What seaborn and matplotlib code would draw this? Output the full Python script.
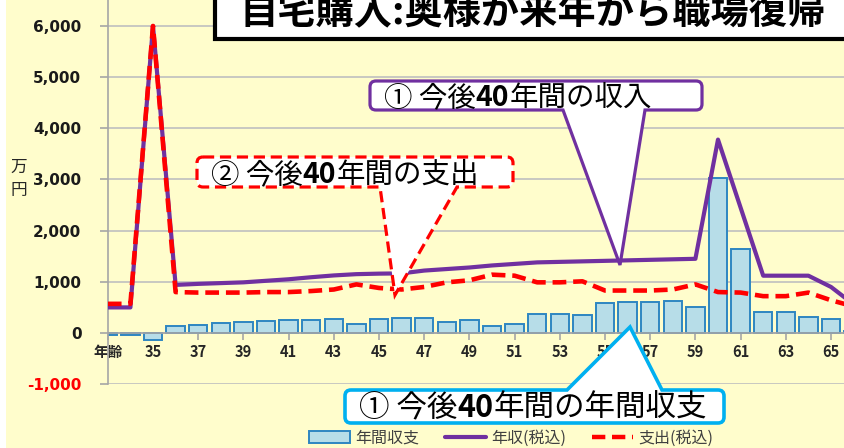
import numpy as np
import pandas as pd
import seaborn as sns
import matplotlib
matplotlib.use('Agg')
import matplotlib.pyplot as plt
from matplotlib.path import Path
from matplotlib.patches import PathPatch, Patch, Rectangle
from matplotlib.lines import Line2D

# data (万円)
ages = list(range(33, 67))
income = [500, 500, 6000, 940, 960, 975, 990, 1020, 1050, 1090, 1125, 1150,
          1160, 1165, 1220, 1250, 1280, 1320, 1350, 1380, 1390, 1400, 1410,
          1420, 1430, 1440, 1450, 3780, 2450, 1120, 1120, 1120, 900, 560]
expense = [570, 570, 6000, 800, 790, 790, 790, 800, 800, 820, 850, 950,
           880, 850, 900, 990, 1030, 1140, 1120, 990, 990, 1010, 830,
           830, 830, 850, 950, 800, 790, 720, 720, 790, 640, 520]
balance = [-40, -40, -140, 140, 160, 200, 220, 230, 250, 250, 265, 180,
           265, 285, 300, 210, 250, 135, 180, 375, 375, 355, 590,
           600, 600, 620, 510, 3030, 1650, 415, 415, 305, 265, 40]
xtick_ages = list(range(33, 66, 2))
xtick_labels = ['年齢'] + [str(a) for a in xtick_ages[1:]]
yticks = [-1000, 0, 1000, 2000, 3000, 4000, 5000, 6000]
legend_labels = ['年間収支', '年収(税込)', '支出(税込)']
title = '自宅購入:奥様が来年から職場復帰'

W, H = 845, 448
bg = '#FFFDCC'
bar_fill = '#B7DDE8'
bar_edge = '#2E86C1'
purple = '#7030A0'
red = '#FF0000'
cyan = '#00B0F0'

sns.set_theme(style='white')
plt.rcParams['font.family'] = ['Noto Sans CJK JP', 'DejaVu Sans']

df = pd.DataFrame({'age': ages, 'income': income, 'expense': expense, 'balance': balance})

fig = plt.figure(figsize=(W / 100, H / 100), dpi=100, facecolor=bg)
x_left, x_step = 107.8, 22.6
y_zero, y_step = 333.0, 51.17
ax = fig.add_axes([x_left / W, 1 - (y_zero + y_step) / H,
                   (W - x_left) / W, (y_zero + y_step) / H], facecolor=bg)

sns.barplot(data=df, x='age', y='balance', native_scale=True, width=0.82,
            color=bar_fill, edgecolor=bar_edge, linewidth=1.4, saturation=1,
            ax=ax, zorder=2)
sns.lineplot(data=df, x='age', y='income', color=purple, lw=3, ax=ax, zorder=3)
sns.lineplot(data=df, x='age', y='expense', color=red, lw=3.3,
             linestyle=(0, (3, 1.5)), ax=ax, zorder=4)

ax.set_xlim(33, 33 + (W - x_left) / x_step)
ax.set_ylim(-1000, y_zero / y_step * 1000)
ax.set_xlabel('')
ax.set_ylabel('')
ax.set_axisbelow(True)
ax.yaxis.grid(True, color='#BFBFBF', lw=1.2)
ax.xaxis.grid(False)
for s in ['top', 'right']:
    ax.spines[s].set_visible(False)
ax.spines['bottom'].set_position(('data', 0))
ax.spines['bottom'].set_color('#A6A6A6')
ax.spines['left'].set_color('#A6A6A6')
ax.spines['bottom'].set_linewidth(1.2)
ax.spines['left'].set_linewidth(1.2)

ax.set_yticks(yticks)
ax.set_yticklabels([f'{v:,}' for v in yticks], family='DejaVu Sans',
                   fontweight='bold', fontsize=11, color='#1a1a1a')
ax.get_yticklabels()[0].set_color(red)
ax.tick_params(axis='y', length=6, width=1.2, color='#A6A6A6', pad=13, left=True)

ax.set_xticks(xtick_ages)
ax.set_xticklabels(xtick_labels, fontweight='bold', fontsize=10.5, color='#262626')
ax.tick_params(axis='x', length=5, width=1.2, color='#A6A6A6', pad=3, bottom=True)

fig.text(19 / W, 1 - 167 / H, '万', fontsize=12, color='#262626', ha='center', va='center')
fig.text(19 / W, 1 - 191 / H, '円', fontsize=12, color='#262626', ha='center', va='center')

# white strip on the left edge
fig.add_artist(Rectangle((0, 0), 6 / W, 1, transform=fig.transFigure,
                         facecolor='white', edgecolor='none', zorder=1))


def bubble(x0, y0, x1, y1, side, ta, tb, tip, color, lw, ls='-', r=6):
    L, C = Path.LINETO, Path.CURVE3
    v = [(x0 + r, y0)]
    c = [Path.MOVETO]
    if side == 'top':
        v += [(ta, y0), tip, (tb, y0)]
        c += [L, L, L]
    v += [(x1 - r, y0), (x1, y0), (x1, y0 + r)]
    c += [L, C, C]
    v += [(x1, y1 - r), (x1, y1), (x1 - r, y1)]
    c += [L, C, C]
    if side == 'bottom':
        v += [(tb, y1), tip, (ta, y1)]
        c += [L, L, L]
    v += [(x0 + r, y1), (x0, y1), (x0, y1 - r)]
    c += [L, C, C]
    v += [(x0, y0 + r), (x0, y0), (x0 + r, y0), (x0 + r, y0)]
    c += [L, C, C, Path.CLOSEPOLY]
    verts = [(x / W, 1 - y / H) for x, y in v]
    fig.add_artist(PathPatch(Path(verts, c), transform=fig.transFigure,
                             facecolor='white', edgecolor=color, lw=lw,
                             linestyle=ls, zorder=5))


def put_text(x, y, parts, size):
    renderer = fig.canvas.get_renderer()
    for s, w in parts:
        t = fig.text(x / W, 1 - y / H, s, fontsize=size, fontweight=w,
                     ha='left', va='baseline', color='black', zorder=6)
        x += t.get_window_extent(renderer).width


# title box (cut off at the top/right like the reference)
fig.add_artist(Rectangle((215 / W, 1 - 39 / H), (W + 20 - 215) / W, 80 / H,
                         transform=fig.transFigure, facecolor='white',
                         edgecolor='black', lw=3, zorder=5))
fig.text(240 / W, 1 - 23 / H, title, fontsize=27.5, fontweight='bold',
         ha='left', va='baseline', color='black', zorder=6)

bubble(370, 81, 702, 110, 'bottom', 563, 645, (620, 265), purple, 2.3)
put_text(384, 106, [('① 今後', 'normal'), ('40', 'bold'), ('年間の収入', 'normal')], 20.5)

bubble(197, 157, 513, 187, 'bottom', 380, 457, (395, 295), red, 2.3, ls=(0, (3.5, 1.8)))
put_text(211, 183, [('② 今後', 'normal'), ('40', 'bold'), ('年間の支出', 'normal')], 20.5)

bubble(345, 390, 724, 423, 'top', 567, 662, (630, 327), cyan, 2.6)
put_text(359, 417, [('① 今後', 'normal'), ('40', 'bold'), ('年間の年間収支', 'normal')], 22)

handles = [Patch(facecolor=bar_fill, edgecolor=bar_edge, lw=1.4),
           Line2D([], [], color=purple, lw=3),
           Line2D([], [], color=red, lw=3.2, linestyle=(0, (3, 1.5)))]
fig.legend(handles, legend_labels, loc='center', bbox_to_anchor=(511 / W, 1 - 438 / H),
           ncol=3, frameon=False, fontsize=11.5, handlelength=2.6,
           handletextpad=0.3, columnspacing=1.6, labelcolor='#404040')

fig.savefig('out.png', dpi=100, facecolor=bg)
